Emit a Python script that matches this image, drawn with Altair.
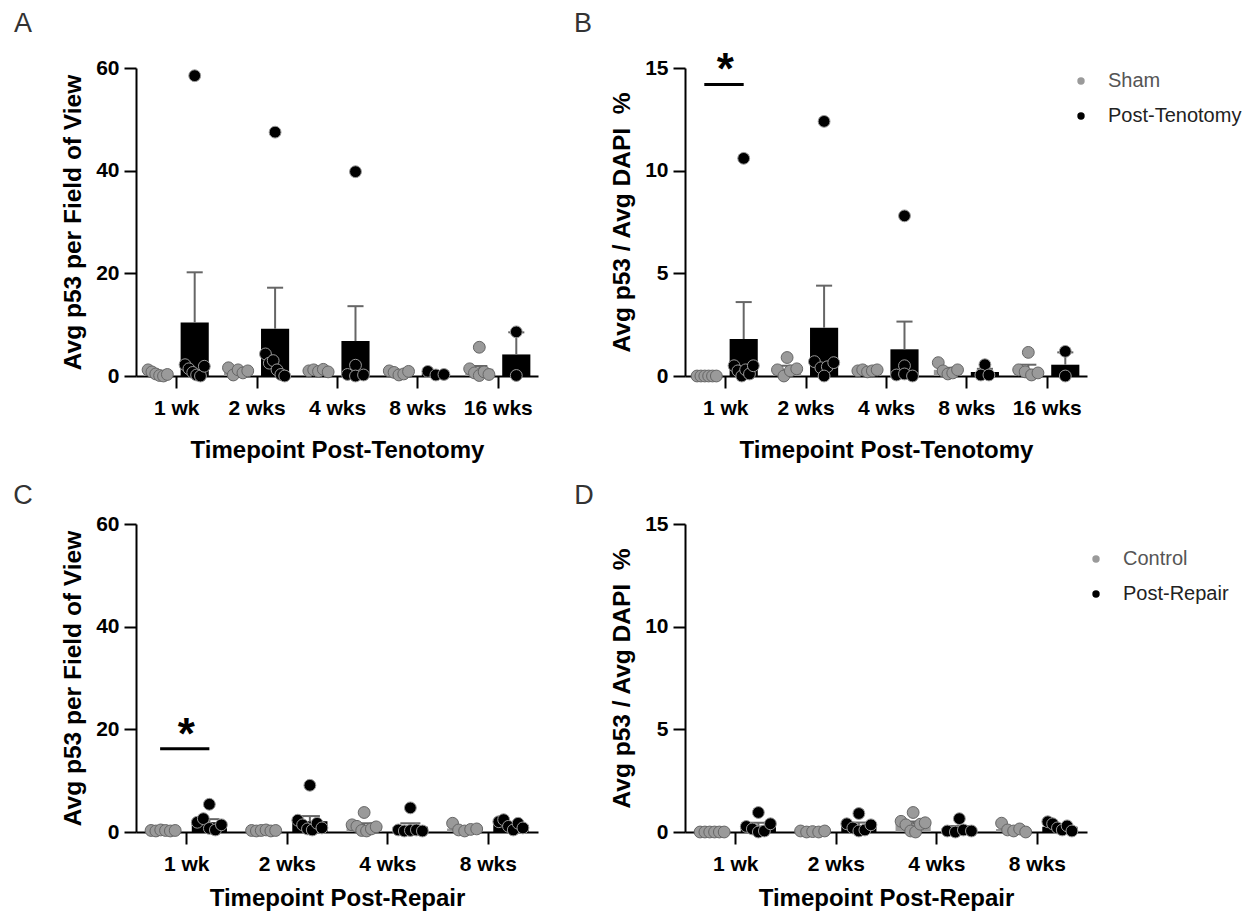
import altair as alt
import pandas as pd

FONT = "Liberation Sans"
W, H = 402, 308
GOFF = 0.23      # group offset from the timepoint tick (axis units)
BAR_HALF = 0.175
CAP_HALF = 0.10

TEN_LABELS = ["1 wk", "2 wks", "4 wks", "8 wks", "16 wks"]
REP_LABELS = ["1 wk", "2 wks", "4 wks", "8 wks"]
TEN_GROUPS = ["Sham", "Post-Tenotomy"]
REP_GROUPS = ["Control", "Post-Repair"]
GROUP_COLORS = ["#9a9a9a", "#000000"]
GROUP_EDGES = ["#666666", "#9a9a9a"]
LEGEND_TEXT_COLORS = ["#555555", "#222222"]

# ---------------- Panel A : Avg p53 per field of view (tenotomy) ----------------
A_SHAM = [[1.2, 0.8, 0.4, 0.1, 0.0, 0.3],
          [1.6, 0.2, 1.2, 0.6, 1.0],
          [1.0, 1.2, 0.9, 1.3, 0.8],
          [1.0, 0.7, 0.2, 0.4, 0.9],
          [5.6, 1.4, 0.6, 0.1, 0.8, 0.3]]
A_TEN = [[58.5, 2.2, 1.4, 0.7, 0.2, 0.0, 1.9],
         [47.5, 4.3, 2.5, 3.0, 1.2, 0.3, 0.0],
         [39.8, 2.1, 0.3, 0.0, 0.2],
         [0.9, 0.2, 0.3],
         [8.6, 0.1]]
A_SHAM_MEAN = [0.5, 0.9, 1.0, 0.6, 1.4]
A_SHAM_SEM = [0.2, 0.3, 0.1, 0.2, 0.55]
A_TEN_MEAN = [10.4, 9.2, 6.8, 0.5, 4.2]
A_TEN_SEM = [9.8, 8.0, 6.8, 0.2, 4.3]

# ---------------- Panel B : Avg p53 / Avg DAPI % (tenotomy) ----------------
B_SHAM = [[0.0, 0.0, 0.0, 0.0, 0.0, 0.0],
          [0.9, 0.3, 0.0, 0.25, 0.35],
          [0.25, 0.3, 0.2, 0.25, 0.3],
          [0.65, 0.25, 0.1, 0.15, 0.3],
          [1.15, 0.3, 0.2, 0.05, 0.15]]
B_TEN = [[10.6, 0.5, 0.25, 0.0, 0.3, 0.1, 0.5],
         [12.4, 0.7, 0.4, 0.45, 0.0, 0.65],
         [7.8, 0.5, 0.05, 0.1, 0.0],
         [0.55, 0.05, 0.05],
         [1.2, 0.0]]
B_SHAM_MEAN = [0.0, 0.35, 0.25, 0.3, 0.35]
B_SHAM_SEM = [0.0, 0.15, 0.02, 0.1, 0.2]
B_TEN_MEAN = [1.8, 2.35, 1.3, 0.2, 0.55]
B_TEN_SEM = [1.8, 2.05, 1.35, 0.15, 0.6]

# ---------------- Panel C : Avg p53 per field of view (repair) ----------------
C_CTRL = [[0.3, 0.2, 0.4, 0.3, 0.2, 0.3],
          [0.3, 0.2, 0.3, 0.4, 0.2, 0.3],
          [3.8, 1.4, 1.1, 0.3, 0.2, 0.6, 1.0],
          [1.7, 0.4, 0.2, 0.5, 0.6]]
C_REP = [[5.4, 1.9, 2.6, 0.7, 0.4, 1.4],
         [9.1, 2.3, 1.4, 0.6, 0.4, 1.7, 0.8],
         [4.7, 0.4, 0.2, 0.3, 0.4, 0.2],
         [2.0, 2.4, 1.1, 0.4, 1.7, 0.8]]
C_CTRL_MEAN = [0.3, 0.3, 1.2, 0.7]
C_CTRL_SEM = [0.05, 0.05, 0.5, 0.3]
C_REP_MEAN = [1.9, 2.1, 1.0, 1.4]
C_REP_SEM = [0.6, 1.0, 0.7, 0.3]

# ---------------- Panel D : Avg p53 / Avg DAPI % (repair) ----------------
D_CTRL = [[0.0, 0.0, 0.0, 0.0, 0.0, 0.0],
          [0.05, 0.0, 0.02, 0.0, 0.05],
          [0.95, 0.52, 0.35, 0.05, 0.0, 0.38, 0.45],
          [0.43, 0.1, 0.05, 0.15, 0.0]]
D_REP = [[0.95, 0.27, 0.15, 0.0, 0.05, 0.4],
         [0.9, 0.4, 0.2, 0.05, 0.1, 0.35],
         [0.65, 0.05, 0.0, 0.1, 0.05],
         [0.5, 0.4, 0.2, 0.1, 0.3, 0.05]]
D_CTRL_MEAN = [0.0, 0.02, 0.39, 0.15]
D_CTRL_SEM = [0.0, 0.01, 0.12, 0.08]
D_REP_MEAN = [0.3, 0.33, 0.17, 0.26]
D_REP_SEM = [0.15, 0.13, 0.12, 0.07]

# significance bars: timepoint index and line level
SIG_B = {"tp": [0], "level": [14.2]}
SIG_C = {"tp": [0], "level": [16.2]}


def swarm(vals, ypx, maxoff=0.12, maxstep=0.1, close_px=8.0):
    """Spread points that sit close in y into a centred row (scatter-dot layout)."""
    order = sorted(range(len(vals)), key=lambda i: vals[i])
    clusters, cur = [], [order[0]]
    for i in order[1:]:
        if (vals[i] - vals[cur[-1]]) * ypx < close_px:
            cur.append(i)
        else:
            clusters.append(cur)
            cur = [i]
    clusters.append(cur)
    offs = [0.0] * len(vals)
    for cl in clusters:
        k = len(cl)
        if k == 1:
            continue
        step = min(maxstep, 2 * maxoff / (k - 1))
        for j, i in enumerate(sorted(cl)):
            offs[i] = (j - (k - 1) / 2) * step
    return offs


def make_panel(labels, groups, ctrl, trt, cmean, csem, tmean, tsem, ymax, yticks,
               ytitle, xtitle, letter, letter_xy, legend_xy=None, sig=None, xtitle_pad=20):
    n = len(labels)
    ypx = H / ymax
    prow, brow = [], []
    for gname, vals_list, means, sems, off in [(groups[0], ctrl, cmean, csem, -GOFF),
                                               (groups[1], trt, tmean, tsem, GOFF)]:
        for ti, vals in enumerate(vals_list):
            for v, o in zip(vals, swarm(vals, ypx)):
                prow.append({"group": gname, "x": ti + off + o, "value": v})
            brow.append({"group": gname, "x": ti + off, "mean": means[ti], "sem": sems[ti]})
    pts = pd.DataFrame(prow)
    bars = pd.DataFrame(brow)

    label_expr = "[" + ",".join("'" + s + "'" for s in labels) + "][datum.value]"
    xscale = alt.Scale(domain=[-0.5, n - 0.5], nice=False, zero=False)
    yscale = alt.Scale(domain=[0, ymax], nice=False)
    xaxis = alt.Axis(values=list(range(n)), labelExpr=label_expr, title=xtitle, grid=False,
                     tickSize=12, tickWidth=2, tickColor="black", domainColor="black",
                     domainWidth=2, labelFont=FONT, labelFontSize=21, labelFontWeight="bold",
                     labelColor="black", labelPadding=9, labelFlush=False, labelOverlap=False,
                     titleFont=FONT, titleFontSize=24, titleFontWeight="bold",
                     titleColor="black", titlePadding=xtitle_pad)
    yaxis = alt.Axis(values=yticks, title=ytitle, grid=False, tickSize=12, tickWidth=2,
                     tickColor="black", domainColor="black", domainWidth=2,
                     labelFont=FONT, labelFontSize=21, labelFontWeight="bold",
                     labelColor="black", labelPadding=5, labelOverlap=False,
                     titleFont=FONT, titleFontSize=24.5, titleFontWeight="bold",
                     titleColor="black", titlePadding=10)
    cscale = alt.Scale(domain=groups, range=GROUP_COLORS)

    bar_layer = alt.Chart(bars).transform_calculate(
        x0=f"datum.x - {BAR_HALF}", x1=f"datum.x + {BAR_HALF}"
    ).mark_bar().encode(
        x=alt.X("x0:Q", scale=xscale, axis=xaxis),
        x2="x1:Q",
        y=alt.Y("mean:Q", scale=yscale, axis=yaxis),
        y2=alt.datum(0),
        fill=alt.Fill("group:N", scale=cscale, legend=None),
    )
    err_src = alt.Chart(bars).transform_filter("datum.sem > 0").transform_calculate(
        top="datum.mean + datum.sem", c0=f"datum.x - {CAP_HALF}", c1=f"datum.x + {CAP_HALF}")
    err_line = err_src.mark_rule(color="#666666", strokeWidth=2).encode(
        x="x:Q", y="mean:Q", y2="top:Q")
    err_cap = err_src.mark_rule(color="#666666", strokeWidth=2).encode(
        x="c0:Q", x2="c1:Q", y="top:Q")

    layers = [bar_layer, err_line, err_cap]
    for gi, g in enumerate(groups):
        layers.append(alt.Chart(pts).transform_filter(alt.datum.group == g).mark_circle(
            size=140, opacity=1, stroke=GROUP_EDGES[gi], strokeWidth=1).encode(
            x="x:Q", y="value:Q",
            color=alt.Color("group:N", scale=cscale, legend=None)))

    letter_layer = alt.Chart(pd.DataFrame({"t": [letter]})).mark_text(
        font=FONT, fontSize=27, color="#333333", align="center", baseline="middle"
    ).encode(text="t:N", x=alt.value(letter_xy[0]), y=alt.value(letter_xy[1]))
    layers.append(letter_layer)

    # legend (series key) in the top-right corner
    if legend_xy is not None:
        for gi, g in enumerate(groups):
            lx, ly = legend_xy[0], legend_xy[1] + 35 * gi
            key = pd.DataFrame({"label": [g]})
            layers.append(alt.Chart(key).mark_circle(size=55, opacity=1,
                                                     color=GROUP_COLORS[gi]).encode(
                x=alt.value(lx), y=alt.value(ly)))
            layers.append(alt.Chart(key).mark_text(
                font=FONT, fontSize=20, color=LEGEND_TEXT_COLORS[gi], align="left",
                baseline="middle").encode(
                x=alt.value(lx + 27), y=alt.value(ly), text="label:N"))

    if sig is not None:
        sdf = pd.DataFrame(sig)
        sdf["x0"] = sdf["tp"] - GOFF - 0.03
        sdf["x1"] = sdf["tp"] + GOFF
        sdf["star"] = "*"
        line = alt.Chart(sdf).mark_rule(color="black", strokeWidth=3).encode(
            x="x0:Q", x2="x1:Q", y="level:Q")
        star = alt.Chart(sdf).mark_text(font=FONT, fontSize=44, fontWeight="bold",
                                        color="black", baseline="alphabetic", dy=0).encode(
            x="tp:Q", y="level:Q", text="star:N")
        layers += [line, star]

    return alt.layer(*layers).properties(width=W, height=H)


DAPI_TITLE = "Avg p53 / Avg DAPI\u00a0 %"

pA = make_panel(TEN_LABELS, TEN_GROUPS, A_SHAM, A_TEN, A_SHAM_MEAN, A_SHAM_SEM,
                A_TEN_MEAN, A_TEN_SEM, 60, [0, 20, 40, 60],
                "Avg p53 per Field of View", "Timepoint Post-Tenotomy", "A",
                (-113, -44))
pB = make_panel(TEN_LABELS, TEN_GROUPS, B_SHAM, B_TEN, B_SHAM_MEAN, B_SHAM_SEM,
                B_TEN_MEAN, B_TEN_SEM, 15, [0, 5, 10, 15],
                DAPI_TITLE, "Timepoint Post-Tenotomy", "B",
                (-102, -44), (396, 13), SIG_B)
pC = make_panel(REP_LABELS, REP_GROUPS, C_CTRL, C_REP, C_CTRL_MEAN, C_CTRL_SEM,
                C_REP_MEAN, C_REP_SEM, 60, [0, 20, 40, 60],
                "Avg p53 per Field of View", "Timepoint Post-Repair", "C",
                (-113, -28), None, SIG_C, xtitle_pad=12)
pD = make_panel(REP_LABELS, REP_GROUPS, D_CTRL, D_REP, D_CTRL_MEAN, D_CTRL_SEM,
                D_REP_MEAN, D_REP_SEM, 15, [0, 5, 10, 15],
                DAPI_TITLE, "Timepoint Post-Repair", "D",
                (-101, -28), (411, 35), xtitle_pad=12)

chart = alt.concat(pA, pB, pC, pD, columns=2, spacing={"row": 148, "column": 147},
                   bounds="flush").resolve_scale(
    x="independent", y="independent", color="independent", fill="independent"
).configure_view(stroke=None).properties(
    padding={"left": 5, "top": 2, "right": 5, "bottom": 2})

chart.save("out.html", embed_options={"renderer": "svg", "actions": False})
